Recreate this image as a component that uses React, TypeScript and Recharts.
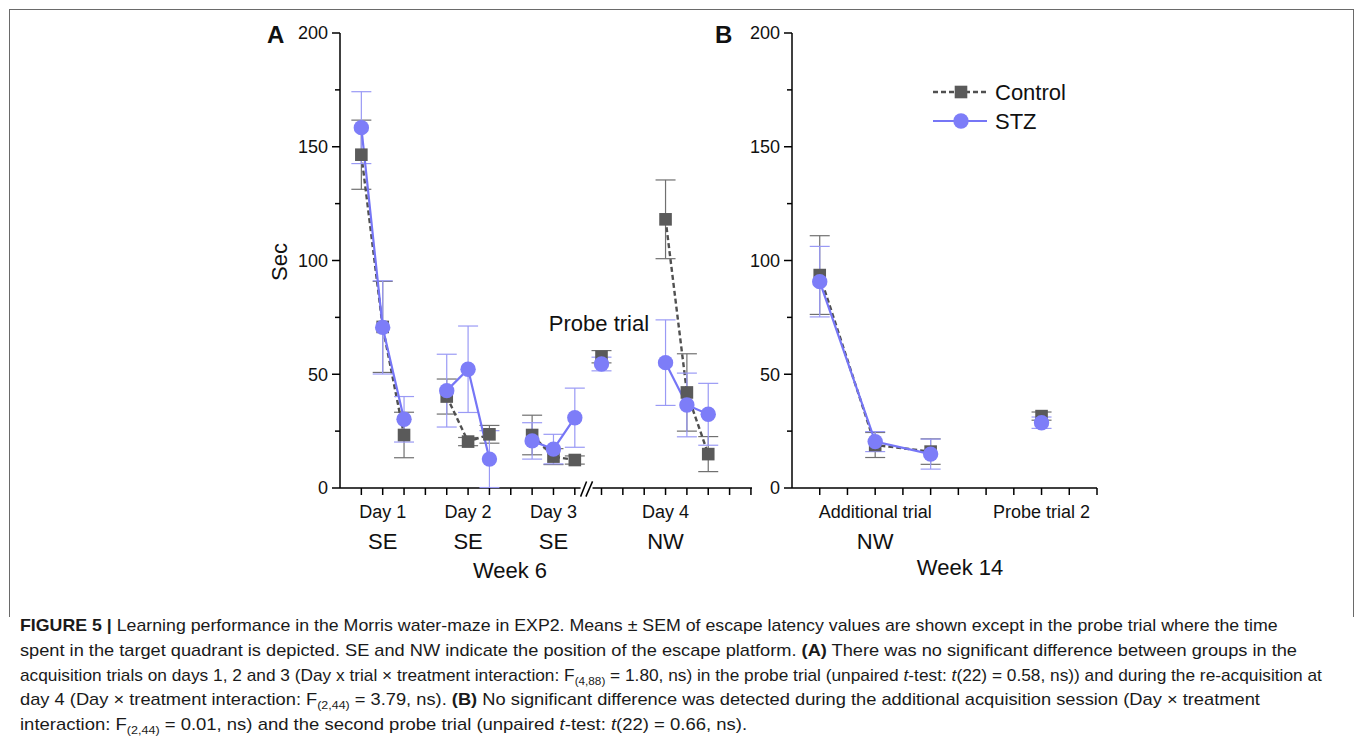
import React, { useLayoutEffect, useRef, useState } from 'react';
import { LineChart, Line, XAxis, YAxis, ErrorBar, ReferenceLine } from 'recharts';

// ---------- Week 6 (panel A) ----------
// x position of every trial on the week-6 axis (the axis is broken between day 3 and the probe trial)
const weekSixTrialX = [1, 2, 3, 5, 6, 7, 9, 10, 11, 12.25, 15.25, 16.25, 17.25];
const weekSixSession = ['d1', 'd1', 'd1', 'd2', 'd2', 'd2', 'd3', 'd3', 'd3', 'probe', 'd4', 'd4', 'd4'];
const weekSixControlMean = [146.5, 70.8, 23.3, 40.2, 20.4, 23.6, 23.3, 13.8, 12.3, 57.7, 118.1, 42.0, 14.9];
const weekSixControlSem = [15.2, 20.0, 10.0, 7.7, 1.8, 3.9, 8.7, 3.5, 1.8, 2.7, 17.3, 17.0, 7.7];
const weekSixStzMean = [158.4, 70.6, 30.2, 42.8, 52.2, 12.7, 20.7, 17.1, 30.9, 54.5, 55.1, 36.5, 32.4];
const weekSixStzSem = [15.8, 20.5, 10.0, 16.0, 19.0, 12.5, 8.0, 6.5, 13.0, 3.0, 18.8, 14.0, 13.6];
const weekSixTicks = [1, 2, 3, 4, 5, 6, 7, 8, 9, 10, 11, 12.25, 13.25, 14.25, 15.25, 16.25, 17.25, 18.25, 19.25];
const weekSixLabelX = [2, 6, 10, 15.25];
const weekSixDayLabels = ['Day 1', 'Day 2', 'Day 3', 'Day 4'];
const weekSixPlatform = ['SE', 'SE', 'SE', 'NW'];

// ---------- Week 14 (panel B) ----------
const weekFourteenTrialX = [1, 3, 5, 9];
const weekFourteenSession = ['add', 'add', 'add', 'probe2'];
const weekFourteenControlMean = [93.6, 18.9, 16.0, 31.6];
const weekFourteenControlSem = [17.3, 5.5, 5.6, 1.8];
const weekFourteenStzMean = [90.7, 20.4, 14.9, 28.7];
const weekFourteenStzSem = [15.5, 4.4, 6.6, 2.5];
const weekFourteenTicks = [1, 2, 3, 4, 5, 6, 7, 8, 9, 10, 11];
const weekFourteenLabelX = [3, 9];
const weekFourteenLabels = ['Additional trial', 'Probe trial 2'];
const weekFourteenPlatform = ['NW', ''];

const secTicks = [0, 25, 50, 75, 100, 125, 150, 175, 200];
const legendNames = ['Control', 'STZ'];

const FONT = '"Liberation Sans", Arial, Helvetica, sans-serif';
const CONTROL_FILL = '#5a5a5a';
const CONTROL_LINE = '#505050';
const CONTROL_ERR = '#707070';
const STZ_FILL = '#7d7df8';
const STZ_LINE = '#7676f6';
const STZ_ERR = '#9a9af5';

type Row = { x: number; value: number; err: number };

function buildSegments(xs: number[], sessions: string[], mean: number[], sem: number[]) {
  const out: { key: string; rows: Row[] }[] = [];
  xs.forEach((x, i) => {
    let seg = out.find((s) => s.key === sessions[i]);
    if (!seg) {
      seg = { key: sessions[i], rows: [] };
      out.push(seg);
    }
    seg.rows.push({ x, value: mean[i], err: sem[i] });
  });
  return out;
}

const SquareDot = (p: any) => {
  if (p.cx == null || p.cy == null) return <g key={p.key} />;
  return <rect key={p.key} x={p.cx - 6.3} y={p.cy - 6.3} width={12.6} height={12.6} fill={CONTROL_FILL} />;
};

const CircleDot = (p: any) => {
  if (p.cx == null || p.cy == null) return <g key={p.key} />;
  return <circle key={p.key} cx={p.cx} cy={p.cy} r={7.7} fill={STZ_FILL} />;
};

const SecTick = (props: any) => {
  const { x, y, payload } = props;
  const major = payload.value % 50 === 0;
  return (
    <g>
      <line x1={x - (major ? 8 : 5)} x2={x} y1={y} y2={y} stroke="#000" strokeWidth={1.5} />
      {major && (
        <text x={x - 12} y={y} dy="0.36em" textAnchor="end" fontSize={18} fill="#111" fontFamily={FONT}>
          {payload.value}
        </text>
      )}
    </g>
  );
};

function makeTrialTick(labelX: number[], labels: string[], platform: string[]) {
  return (props: any) => {
    const { x, y, payload } = props;
    const idx = labelX.indexOf(payload.value);
    return (
      <g>
        <line x1={x} x2={x} y1={y} y2={y + 7} stroke="#000" strokeWidth={1.5} />
        {idx >= 0 && (
          <text x={x} y={y + 24} dy="0.36em" textAnchor="middle" fontSize={18} fill="#111" fontFamily={FONT}>
            {labels[idx]}
          </text>
        )}
        {idx >= 0 && platform[idx] && (
          <text x={x} y={y + 53} dy="0.36em" textAnchor="middle" fontSize={22} fill="#111" fontFamily={FONT}>
            {platform[idx]}
          </text>
        )}
      </g>
    );
  };
}

const LegendBox = () => (
  <svg width={150} height={60} style={{ overflow: 'visible', display: 'block' }}>
    <line x1={0} x2={54} y1={12} y2={12} stroke={CONTROL_LINE} strokeWidth={2.4} strokeDasharray="5 3" />
    <rect x={21.7} y={5.7} width={12.6} height={12.6} fill={CONTROL_FILL} />
    <text x={62} y={12} dy="0.36em" fontSize={22} fill="#111" fontFamily={FONT}>{legendNames[0]}</text>
    <line x1={0} x2={54} y1={41} y2={41} stroke={STZ_LINE} strokeWidth={2.2} />
    <circle cx={28} cy={41} r={7.7} fill={STZ_FILL} />
    <text x={62} y={41} dy="0.36em" fontSize={22} fill="#111" fontFamily={FONT}>{legendNames[1]}</text>
  </svg>
);

function seriesLines(ctrl: { key: string; rows: Row[] }[], stz: { key: string; rows: Row[] }[]) {
  return [
    ...ctrl.map((s) => (
      <Line
        key={'control-' + s.key}
        data={s.rows}
        dataKey="value"
        name="Control"
        stroke={CONTROL_LINE}
        strokeWidth={2.4}
        strokeDasharray="5 3"
        dot={SquareDot}
        activeDot={false}
        isAnimationActive={false}
      >
        <ErrorBar dataKey="err" width={10} stroke={CONTROL_ERR} strokeWidth={1.2} direction="y" />
      </Line>
    )),
    ...stz.map((s) => (
      <Line
        key={'stz-' + s.key}
        data={s.rows}
        dataKey="value"
        name="STZ"
        stroke={STZ_LINE}
        strokeWidth={2.2}
        dot={CircleDot}
        activeDot={false}
        isAnimationActive={false}
      >
        <ErrorBar dataKey="err" width={10} stroke={STZ_ERR} strokeWidth={1.2} direction="y" />
      </Line>
    )),
  ];
}

function CaptionLine({ top, width, children }: { top: number; width: number; children: React.ReactNode }) {
  const ref = useRef<HTMLSpanElement>(null);
  const [scale, setScale] = useState(1);
  useLayoutEffect(() => {
    if (ref.current) {
      const w = ref.current.offsetWidth;
      if (w > 0) setScale(width / w);
    }
  }, [width]);
  return (
    <div style={{ position: 'absolute', left: 20, top, height: 24, lineHeight: '24px', whiteSpace: 'nowrap' }}>
      <span
        ref={ref}
        style={{ display: 'inline-block', transform: `scaleX(${scale})`, transformOrigin: 'left center' }}
      >
        {children}
      </span>
    </div>
  );
}

const Sub = ({ children }: { children: React.ReactNode }) => (
  <sub style={{ fontSize: '0.68em', verticalAlign: '-0.32em', lineHeight: 0 }}>{children}</sub>
);

export default function App() {
  const w6Control = buildSegments(weekSixTrialX, weekSixSession, weekSixControlMean, weekSixControlSem);
  const w6Stz = buildSegments(weekSixTrialX, weekSixSession, weekSixStzMean, weekSixStzSem);
  const w14Control = buildSegments(weekFourteenTrialX, weekFourteenSession, weekFourteenControlMean, weekFourteenControlSem);
  const w14Stz = buildSegments(weekFourteenTrialX, weekFourteenSession, weekFourteenStzMean, weekFourteenStzSem);

  const text: React.CSSProperties = { position: 'absolute', fontFamily: FONT, color: '#111', whiteSpace: 'nowrap' };

  return (
    <div style={{ position: 'relative', width: 1355, height: 742, background: '#fff', fontFamily: FONT, overflow: 'hidden' }}>
      <style>{'body{margin:0}'}</style>

      {/* figure frame */}
      <div
        style={{
          position: 'absolute',
          left: 9,
          top: 9,
          width: 1343,
          height: 607,
          borderTop: '1px solid #6a6a6a',
          borderLeft: '1px solid #6a6a6a',
          borderRight: '1px solid #6a6a6a',
        }}
      />

      {/* panel A */}
      <div style={{ position: 'absolute', left: 240, top: 0 }}>
        <LineChart width={540} height={600} margin={{ top: 33, right: 28, bottom: 0, left: 0 }}>
          <XAxis
            type="number"
            dataKey="x"
            domain={[0, 19.3]}
            ticks={weekSixTicks}
            interval={0}
            axisLine={false}
            tickLine={false}
            tickSize={0}
            tickMargin={0}
            height={112}
            allowDataOverflow
            tick={makeTrialTick(weekSixLabelX, weekSixDayLabels, weekSixPlatform)}
          />
          <YAxis
            type="number"
            domain={[0, 200]}
            ticks={secTicks}
            interval={0}
            width={100}
            axisLine={{ stroke: '#000', strokeWidth: 1.5 }}
            tickLine={false}
            tickSize={0}
            tickMargin={0}
            tick={SecTick}
          />
          {/* broken x axis */}
          <ReferenceLine segment={[{ x: 0, y: 0 }, { x: 11.27, y: 0 }]} stroke="#000" strokeWidth={1.5} ifOverflow="visible" />
          <ReferenceLine segment={[{ x: 11.83, y: 0 }, { x: 19.3, y: 0 }]} stroke="#000" strokeWidth={1.5} ifOverflow="visible" />
          <ReferenceLine segment={[{ x: 11.27, y: -3.8 }, { x: 11.55, y: 2.9 }]} stroke="#000" strokeWidth={1.5} ifOverflow="visible" />
          <ReferenceLine segment={[{ x: 11.52, y: -3.8 }, { x: 11.83, y: 2.9 }]} stroke="#000" strokeWidth={1.5} ifOverflow="visible" />
          {seriesLines(w6Control, w6Stz)}
        </LineChart>
      </div>

      {/* panel B */}
      <div style={{ position: 'absolute', left: 700, top: 0 }}>
        <LineChart width={420} height={600} margin={{ top: 33, right: 23, bottom: 0, left: 0 }}>
          <XAxis
            type="number"
            dataKey="x"
            domain={[0, 11]}
            ticks={weekFourteenTicks}
            interval={0}
            axisLine={{ stroke: '#000', strokeWidth: 1.5 }}
            tickLine={false}
            tickSize={0}
            tickMargin={0}
            height={112}
            tick={makeTrialTick(weekFourteenLabelX, weekFourteenLabels, weekFourteenPlatform)}
          />
          <YAxis
            type="number"
            domain={[0, 200]}
            ticks={secTicks}
            interval={0}
            width={92}
            axisLine={{ stroke: '#000', strokeWidth: 1.5 }}
            tickLine={false}
            tickSize={0}
            tickMargin={0}
            tick={SecTick}
          />
          {seriesLines(w14Control, w14Stz)}
        </LineChart>
      </div>

      {/* legend of panel B */}
      <div style={{ position: 'absolute', left: 933, top: 80 }}>
        <LegendBox />
      </div>

      {/* panel letters and axis titles */}
      <div style={{ ...text, left: 267, top: 21, fontSize: 24, fontWeight: 700, lineHeight: '28px' }}>A</div>
      <div style={{ ...text, left: 715, top: 21, fontSize: 24, fontWeight: 700, lineHeight: '28px' }}>B</div>
      <div
        style={{
          ...text,
          left: 280,
          top: 262,
          fontSize: 22,
          lineHeight: '26px',
          transform: 'translate(-50%, -50%) rotate(-90deg)',
        }}
      >
        Sec
      </div>
      <div style={{ ...text, left: 599, top: 324, fontSize: 22, lineHeight: '26px', transform: 'translate(-50%, -50%)' }}>
        Probe trial
      </div>
      <div style={{ ...text, left: 510, top: 571, fontSize: 22, lineHeight: '26px', transform: 'translate(-50%, -50%)' }}>
        Week 6
      </div>
      <div style={{ ...text, left: 960, top: 568, fontSize: 22, lineHeight: '26px', transform: 'translate(-50%, -50%)' }}>
        Week 14
      </div>

      {/* caption */}
      <div style={{ position: 'absolute', left: 0, top: 0, fontSize: 17, color: '#1a1a1a', fontFamily: FONT }}>
        <CaptionLine top={614} width={1258}>
          <b>FIGURE 5 |</b> Learning performance in the Morris water-maze in EXP2. Means ± SEM of escape latency values are
          shown except in the probe trial where the time
        </CaptionLine>
        <CaptionLine top={639} width={1277}>
          spent in the target quadrant is depicted. SE and NW indicate the position of the escape platform. <b>(A)</b> There
          was no significant difference between groups in the
        </CaptionLine>
        <CaptionLine top={664} width={1302}>
          acquisition trials on days 1, 2 and 3 (Day x trial × treatment interaction: F<Sub>(4,88)</Sub> = 1.80, ns) in the
          probe trial (unpaired <i>t</i>-test: <i>t</i>(22) = 0.58, ns)) and during the re-acquisition at
        </CaptionLine>
        <CaptionLine top={688} width={1240}>
          day 4 (Day × treatment interaction: F<Sub>(2,44)</Sub> = 3.79, ns). <b>(B)</b> No significant difference was
          detected during the additional acquisition session (Day × treatment
        </CaptionLine>
        <CaptionLine top={713} width={727}>
          interaction: F<Sub>(2,44)</Sub> = 0.01, ns) and the second probe trial (unpaired <i>t</i>-test: <i>t</i>(22) = 0.66,
          ns).
        </CaptionLine>
      </div>
    </div>
  );
}
